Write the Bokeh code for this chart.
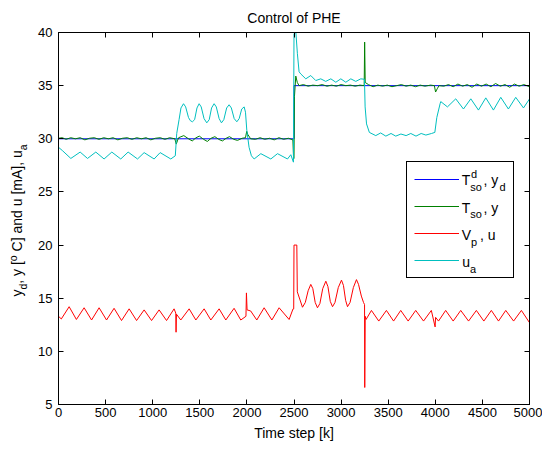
from bokeh.plotting import figure
from bokeh.layouts import row
from bokeh.models import (LinearAxis, FixedTicker, Legend, LegendItem,
                          Range1d, CustomJSTickFormatter, ColumnDataSource)
from bokeh.core.properties import value
from bokeh.embed import file_html
from bokeh.resources import INLINE

# ---------------- data ----------------
x_ticks = [0, 500, 1000, 1500, 2000, 2500, 3000, 3500, 4000, 4500, 5000]
y_ticks = [5, 10, 15, 20, 25, 30, 35, 40]

title_text = "Control of PHE"
x_label = "Time step [k]"

# set-point T_so^d, y_d
yd_x = [0, 2500, 2500, 5000]
yd_y = [30, 30, 35, 35]

# measured T_so, y
y_x = [0, 40, 80, 130, 180, 230, 280, 330, 380, 430, 480, 530, 580, 630, 680,
       730, 780, 830, 880, 930, 980, 1030, 1080, 1130, 1180, 1235, 1250, 1262,
       1275, 1330, 1380, 1420, 1460, 1495, 1540, 1580, 1620, 1660, 1700, 1740,
       1780, 1815, 1860, 1900, 1950, 1985, 1998, 2010, 2040, 2090, 2140, 2190,
       2240, 2290, 2340, 2390, 2440, 2488, 2496, 2500, 2505, 2519, 2535, 2554,
       2600, 2650, 2700, 2750, 2800, 2850, 2900, 2950, 3000, 3050, 3100, 3150,
       3200, 3245, 3250, 3256, 3290, 3340, 3390, 3440, 3490, 3540, 3590, 3640,
       3690, 3740, 3790, 3840, 3890, 3950, 3990, 4003, 4020, 4040, 4090, 4140,
       4190, 4240, 4290, 4340, 4390, 4440, 4490, 4540, 4590, 4640, 4690, 4740,
       4790, 4840, 4890, 4940, 5000]
y_y = [30.05, 30.1, 29.95, 30.1, 30.0, 30.1, 29.9, 30.05, 30.1, 29.95, 30.1,
       30.0, 30.1, 29.9, 30.05, 30.1, 29.95, 30.1, 30.0, 30.1, 29.9, 30.05,
       30.1, 29.95, 30.1, 30.0, 29.5, 29.8, 30.1, 30.3, 30.0, 29.8, 30.1,
       30.25, 29.95, 29.75, 30.05, 30.2, 29.95, 29.8, 30.05, 30.2, 29.95,
       29.85, 30.05, 30.1, 30.7, 30.4, 30.0, 29.95, 30.1, 29.95, 30.05, 29.9,
       30.1, 29.95, 30.05, 29.9, 28.1, 28.2, 34.0, 35.9, 35.3, 35.0, 35.1,
       34.95, 35.05, 35.0, 35.1, 34.95, 35.05, 34.95, 35.1, 35.0, 35.05,
       34.95, 35.05, 35.0, 39.1, 35.3, 35.1, 34.9, 35.05, 34.95, 35.05, 34.9,
       35.0, 35.1, 34.95, 35.05, 34.9, 35.05, 34.95, 35.05, 35.0, 34.4, 34.7,
       35.0, 34.95, 35.1, 34.9, 35.15, 34.95, 35.1, 34.85, 35.15, 34.95,
       35.15, 34.9, 35.2, 34.95, 35.1, 34.85, 35.15, 34.95, 35.1, 34.9]

# control V_p, u
u_x = [0, 30, 113, 190, 272, 351, 431, 510, 590, 669, 750, 829, 909, 988,
       1068, 1147, 1227, 1245, 1248, 1252, 1298, 1387, 1458, 1546, 1617, 1705,
       1776, 1864, 1935, 1990, 1995, 2002, 2040, 2105, 2183, 2265, 2342, 2448,
       2490, 2497, 2500, 2530, 2535, 2590, 2620, 2650, 2678, 2700, 2725, 2749,
       2775, 2805, 2838, 2860, 2885, 2909, 2935, 2970, 3004, 3025, 3048, 3068,
       3095, 3130, 3163, 3185, 3215, 3238, 3249, 3251, 3256, 3265, 3322, 3400,
       3481, 3557, 3633, 3712, 3792, 3875, 3958, 3998, 4003, 4034, 4110, 4190,
       4270, 4353, 4436, 4515, 4595, 4671, 4748, 4831, 4914, 5000]
u_y = [13.3, 13.05, 14.2, 13.0, 14.1, 12.95, 14.1, 12.95, 14.05, 12.9, 14.0,
       12.9, 13.9, 12.9, 13.9, 12.9, 14.0, 13.6, 11.8, 13.5, 12.95, 14.0,
       12.95, 14.0, 12.95, 14.0, 12.95, 14.05, 12.95, 13.3, 15.5, 13.9, 13.8,
       12.95, 14.1, 12.95, 14.1, 13.0, 14.0, 14.0, 20.0, 20.0, 15.6, 14.15,
       14.6, 15.7, 16.3, 15.9, 14.6, 14.1, 14.5, 15.9, 16.6, 16.1, 14.7, 14.2,
       14.6, 16.0, 16.7, 16.2, 14.8, 14.2, 14.6, 16.0, 16.75, 16.3, 15.2,
       14.6, 14.4, 6.6, 13.3, 13.0, 13.85, 12.85, 13.85, 12.85, 13.85, 12.85,
       13.85, 12.85, 13.85, 12.3, 13.2, 12.85, 13.85, 12.85, 13.85, 12.85,
       13.85, 12.85, 13.85, 12.85, 13.85, 12.85, 13.85, 12.7]

# u_a
ua_x = [0, 40, 131, 230, 308, 396, 484, 566, 661, 739, 839, 909, 1015, 1079,
        1192, 1240, 1255, 1280, 1300, 1327, 1350, 1380, 1400, 1422, 1445,
        1470, 1493, 1515, 1545, 1574, 1600, 1625, 1652, 1675, 1705, 1730,
        1755, 1785, 1811, 1835, 1865, 1893, 1918, 1945, 1971, 1985, 1999,
        2023, 2048, 2077, 2148, 2254, 2325, 2431, 2466, 2494, 2500, 2520,
        2536, 2554, 2572, 2625, 2678, 2731, 2784, 2837, 2891, 2944, 2997,
        3050, 3103, 3156, 3209, 3248, 3255, 3270, 3300, 3368, 3420, 3475,
        3530, 3580, 3635, 3690, 3740, 3795, 3850, 3900, 3960, 3995, 4016,
        4051, 4058, 4129, 4217, 4299, 4377, 4458, 4536, 4617, 4695, 4776,
        4854, 4936, 5000]
ua_y = [29.2, 28.9, 28.15, 28.75, 28.15, 28.75, 28.1, 28.75, 28.1, 28.75,
        28.1, 28.7, 28.1, 28.7, 28.1, 28.4, 30.5, 31.8, 32.9, 33.3, 33.0,
        32.0, 31.7, 31.6, 31.8, 32.9, 33.3, 33.0, 31.9, 31.5, 31.8, 32.9,
        33.3, 33.0, 31.9, 31.5, 31.8, 32.9, 33.2, 32.9, 31.9, 31.6, 31.9,
        32.8, 33.0, 32.5, 30.8, 29.2, 28.4, 28.1, 28.6, 28.1, 28.6, 28.1,
        28.5, 27.8, 39.9, 40.0, 38.0, 36.3, 36.1, 35.64, 35.95, 35.48, 35.64,
        35.4, 35.64, 35.32, 35.64, 35.32, 35.64, 35.4, 35.64, 35.6, 33.0,
        31.4, 30.6, 30.3, 30.55, 30.25, 30.5, 30.25, 30.45, 30.3, 30.5, 30.25,
        30.5, 30.35, 30.5, 30.6, 32.0, 33.3, 33.5, 33.0, 33.76, 32.8, 33.76,
        32.7, 33.85, 32.7, 33.9, 32.8, 33.9, 32.9, 33.75]

X_MIN, X_MAX = 0, 5000
Y_MIN, Y_MAX = 5, 40

FONT = "Liberation Sans"
C_BLUE, C_GREEN, C_RED, C_CYAN = "#0000FF", "#008000", "#FF0000", "#00BFBF"

FW, FH = 471, 372        # plot frame size
LW = 34                  # width of the strip holding the y label
BL, BT, BR, BB = 58, 32, 13, 40
MID = 0.36               # baseline -> visual middle of text (em)

# ---------------- main figure ----------------
p = figure(frame_width=FW, frame_height=FH,
           min_border_left=BL - LW, min_border_right=BR,
           min_border_top=BT, min_border_bottom=BB,
           x_range=Range1d(X_MIN, X_MAX), y_range=Range1d(Y_MIN, Y_MAX),
           output_backend="svg", toolbar_location=None, title=title_text,
           background_fill_color="white", border_fill_color="white")

bottom_axis = p.below[0]
left_axis = p.left[0]

p.title.align = "center"
p.title.text_font = FONT
p.title.text_font_size = "14px"
p.title.text_font_style = "normal"
p.title.text_color = "black"
p.title.standoff = 13

p.xgrid.visible = False
p.ygrid.visible = False
p.outline_line_color = "black"
p.outline_line_width = 1

top_axis = LinearAxis(formatter=CustomJSTickFormatter(code="return ''"))
right_axis = LinearAxis(formatter=CustomJSTickFormatter(code="return ''"))
p.add_layout(top_axis, "above")
p.add_layout(right_axis, "right")

for ax, ticks in [(bottom_axis, x_ticks), (top_axis, x_ticks),
                  (left_axis, y_ticks), (right_axis, y_ticks)]:
    ax.ticker = FixedTicker(ticks=ticks)
    ax.axis_line_color = "black"
    ax.major_tick_line_color = "black"
    ax.major_tick_in = 5
    ax.major_tick_out = 0
    ax.minor_tick_in = 0
    ax.minor_tick_out = 0
    ax.minor_tick_line_color = None
    ax.major_label_text_font = FONT
    ax.major_label_text_font_size = "13px"
    ax.major_label_text_color = "black"

for ax in (top_axis, right_axis):
    ax.major_label_text_font_size = "0px"
    ax.major_label_standoff = 0

bottom_axis.major_label_standoff = 3
bottom_axis.axis_label = x_label
bottom_axis.axis_label_text_font = FONT
bottom_axis.axis_label_text_font_size = "14px"
bottom_axis.axis_label_text_font_style = "normal"
bottom_axis.axis_label_text_color = "black"
bottom_axis.axis_label_standoff = 5
left_axis.major_label_standoff = 6

# ---------------- series ----------------
r_yd = p.line(yd_x, yd_y, color=C_BLUE, line_width=1)
r_y = p.line(y_x, y_y, color=C_GREEN, line_width=1)
r_u = p.line(u_x, u_y, color=C_RED, line_width=1)
r_ua = p.line(ua_x, ua_y, color=C_CYAN, line_width=1)

legend = Legend(items=[LegendItem(label=" ", renderers=[r_yd]),
                       LegendItem(label=" ", renderers=[r_y]),
                       LegendItem(label=" ", renderers=[r_u]),
                       LegendItem(label=" ", renderers=[r_ua])],
                location=(348, 126), orientation="vertical",
                padding=7, spacing=7, margin=0,
                glyph_width=45, glyph_height=20, label_height=20,
                label_width=43, label_standoff=4,
                label_text_font=FONT, label_text_font_size="14px",
                border_line_color="black", border_line_width=1,
                border_line_alpha=1.0, background_fill_alpha=0.0)
p.add_layout(legend)

# ---------------- legend texts with sub/superscripts ----------------
REF_X0, REF_Y1 = 58.0, 404.0   # frame bottom-left in reference pixels
MAIN, SCRIPT = 14, 11
SUB, SUP = 5.5, -7.0
rows = [184.8, 212.3, 239.8, 266.5]

# (text, ref x, ref baseline y, size)
leg_pieces = [
    ("T", 461.2, rows[0], MAIN), ("d", 470.5, rows[0] + SUP, SCRIPT),
    ("so", 469.7, rows[0] + SUB, SCRIPT), (", y", 483.0, rows[0], MAIN),
    ("d", 499.0, rows[0] + SUB, SCRIPT),
    ("T", 461.2, rows[1], MAIN), ("so", 469.7, rows[1] + SUB, SCRIPT),
    (", y", 483.0, rows[1], MAIN),
    ("V", 461.2, rows[2], MAIN), ("p", 470.5, rows[2] + SUB, SCRIPT),
    (", u", 479.5, rows[2], MAIN),
    ("u", 461.7, rows[3], MAIN), ("a", 469.5, rows[3] + SUB, SCRIPT),
]
leg_src = ColumnDataSource(dict(
    x=[X_MIN + (rx - REF_X0) * (X_MAX - X_MIN) / FW
       for _, rx, _, _ in leg_pieces],
    y=[Y_MIN + (REF_Y1 - (ry - MID * s)) * (Y_MAX - Y_MIN) / FH
       for _, _, ry, s in leg_pieces],
    text=[t for t, _, _, _ in leg_pieces],
    size=[f"{s}px" for _, _, _, s in leg_pieces]))
p.text(x="x", y="y", text="text", source=leg_src, text_font=value(FONT),
       text_font_size="size", text_color="black", text_align="left",
       text_baseline="middle")

# ---------------- y-axis label strip ----------------
# Its frame gets aligned with the main frame (top at BT), so it spans the
# same vertical extent: data y = pixels above the frame bottom.
lab = figure(frame_width=LW, frame_height=FH, title=None,
             x_range=Range1d(0, LW), y_range=Range1d(0, FH),
             min_border=0, x_axis_type=None, y_axis_type=None,
             toolbar_location=None, output_backend="svg",
             outline_line_color=None,
             background_fill_color="white", border_fill_color="white")

# Arial / Liberation Sans advance widths (per 1000 em)
ARIAL = {'y': 500, 'd': 556, ',': 278, ' ': 278, '[': 278, ']': 278,
         'o': 556, 'C': 722, 'a': 556, 'n': 556, 'u': 556, 'm': 833,
         'A': 667}
YL_MAIN, YL_SCRIPT = 14, 10.5
# (text, kind, leading gap in main-size spaces)
y_pieces = [("y", 0, 0), ("d", 1, 0), (", y [", 0, 0), ("o", -1, 0),
            ("C] and u [mA], u", 0, 1), ("a", 1, 0)]


def width(s, size):
    return sum(ARIAL[c] for c in s) * size / 1000.0


gap = width(" ", YL_MAIN)
total = sum(width(t, YL_SCRIPT if k else YL_MAIN) + g * gap
            for t, k, g in y_pieces)
center_y = 220.0                 # page pixels
base_x = 22.0
pos = center_y + total / 2.0
yl = dict(x=[], y=[], text=[], size=[])
for t, k, g in y_pieces:
    size = YL_SCRIPT if k else YL_MAIN
    pos -= g * gap
    shift = 4.0 if k == 1 else (-6.0 if k == -1 else 0.0)
    yl["x"].append(base_x + shift - MID * size)
    yl["y"].append(BT + FH - pos)
    yl["text"].append(t)
    yl["size"].append(f"{size}px")
    pos -= width(t, size)

lab.text(x="x", y="y", text="text", source=ColumnDataSource(yl),
         text_font=value(FONT), text_font_size="size",
         text_color="black", text_align="left", text_baseline="middle",
         angle=1.5707963267948966)

layout = row(lab, p, spacing=0)
open("out.html", "w").write(file_html(layout, INLINE))
